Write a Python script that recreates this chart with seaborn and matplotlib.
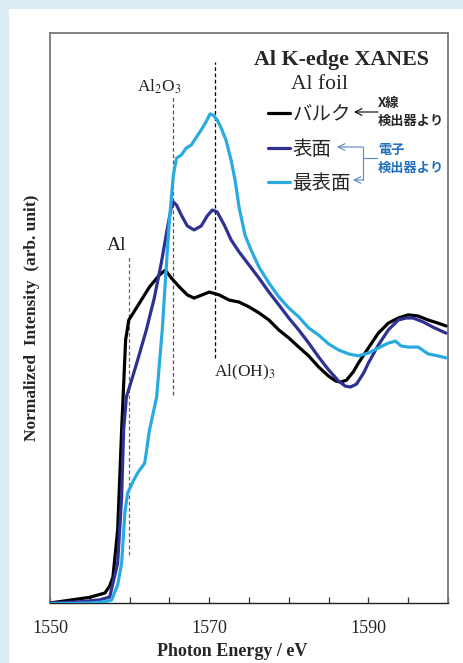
"""Al K-edge XANES de lamina de Al: bulk / superficie / superficie extrema."""
import matplotlib.pyplot as plt
import numpy as np
import pandas as pd
import seaborn as sns
from matplotlib.lines import Line2D
from matplotlib.patches import Rectangle
from matplotlib.ticker import FixedLocator, MultipleLocator

# --- datos (energia en eV, intensidad normalizada) ---
E_BULK = [1550.0, 1552.5, 1555.0, 1556.25, 1556.9, 1557.5, 1557.9, 1558.5,
          1559.0, 1559.5, 1559.9, 1561.25, 1562.5, 1563.75, 1564.5, 1565.25,
          1566.25, 1567.25, 1568.1, 1569.1, 1570.0, 1571.25, 1572.5, 1573.75,
          1575.0, 1576.25, 1577.5, 1578.75, 1580.0, 1581.25, 1582.5, 1583.75,
          1585.0, 1585.9, 1586.5, 1587.25, 1588.1, 1588.75, 1590.0, 1591.25,
          1592.5, 1593.75, 1595.0, 1596.25, 1597.5, 1598.75, 1599.75]
I_BULK = [0.00, 0.01, 0.02, 0.03, 0.035, 0.06, 0.09, 0.256,
          0.607, 0.923, 0.993, 1.053, 1.109, 1.151, 1.168, 1.14,
          1.109, 1.081, 1.07, 1.081, 1.091, 1.081, 1.063, 1.056,
          1.039, 1.018, 0.993, 0.958, 0.93, 0.898, 0.867, 0.828,
          0.796, 0.779, 0.775, 0.782, 0.811, 0.842, 0.895, 0.947,
          0.982, 1.0, 1.011, 1.007, 0.993, 0.982, 0.972]

E_SURF = [1550.0, 1553.75, 1556.25, 1557.5, 1558.5, 1559.0, 1559.25, 1559.6,
          1560.25, 1560.9, 1562.1, 1563.1, 1564.0, 1564.75, 1565.25, 1565.5,
          1565.9, 1566.5, 1567.25, 1568.1, 1569.0, 1569.75, 1570.4, 1571.0,
          1571.9, 1572.75, 1573.75, 1575.0, 1576.25, 1577.5, 1578.75, 1580.0,
          1581.25, 1582.5, 1583.75, 1585.0, 1586.25, 1587.1, 1587.75, 1588.5,
          1589.4, 1590.0, 1591.25, 1592.5, 1593.75, 1594.75, 1595.6, 1596.9,
          1598.1, 1599.75]
I_SURF = [0.0, 0.004, 0.011, 0.021, 0.14, 0.372, 0.607, 0.723,
          0.782, 0.842, 0.958, 1.07, 1.196, 1.316, 1.389, 1.407,
          1.396, 1.361, 1.323, 1.309, 1.323, 1.358, 1.379, 1.372,
          1.326, 1.274, 1.232, 1.186, 1.14, 1.091, 1.046, 1.0,
          0.958, 0.912, 0.863, 0.818, 0.779, 0.761, 0.758, 0.768,
          0.807, 0.842, 0.905, 0.958, 0.993, 1.0, 1.0, 0.986,
          0.968, 0.947]

E_TOP = [1550.0, 1555.0, 1556.9, 1557.75, 1558.5, 1559.0, 1559.4, 1559.75,
         1560.4, 1561.0, 1561.9, 1562.5, 1563.4, 1563.75, 1564.1, 1564.5,
         1565.0, 1565.5, 1565.9, 1566.5, 1567.1, 1567.75, 1568.4, 1569.0,
         1569.6, 1570.1, 1570.5, 1571.0, 1571.5, 1572.1, 1572.75, 1573.25,
         1573.75, 1574.5, 1575.25, 1576.25, 1577.5, 1578.75, 1580.0, 1581.25,
         1582.5, 1583.75, 1585.0, 1586.25, 1587.5, 1588.75, 1590.0, 1591.25,
         1592.5, 1593.4, 1594.1, 1595.0, 1596.25, 1597.5, 1598.75, 1599.75]
I_TOP = [-0.003, 0.0, 0.004, 0.011, 0.063, 0.14, 0.316, 0.386,
         0.425, 0.456, 0.491, 0.607, 0.723, 0.842, 0.958, 1.133,
         1.344, 1.502, 1.561, 1.572, 1.596, 1.607, 1.635, 1.66,
         1.688, 1.716, 1.712, 1.695, 1.667, 1.625, 1.554, 1.484,
         1.389, 1.291, 1.239, 1.179, 1.123, 1.074, 1.035, 1.004,
         0.965, 0.94, 0.909, 0.888, 0.874, 0.867, 0.877, 0.895,
         0.912, 0.919, 0.902, 0.898, 0.898, 0.874, 0.867, 0.86]

SERIES = ["バルク", "表面", "最表面"]
COLORES = {"バルク": "#000000", "表面": "#2e3192", "最表面": "#29abe2"}

# lineas de referencia (energia, y inferior, y superior, etiqueta)
REF_E = [1559.9, 1565.4, 1570.75]
REF_YMIN = [0.168, 0.730, 0.860]
REF_YMAX = [1.214, 1.782, 1.898]
REF_LABELS = ["Al", "Al$_2$O$_3$", "Al(OH)$_3$"]
REF_COLORS = ["#666666", "#555555", "#000000"]

W, H = 463, 663
SERIF = "Liberation Serif"
JP = ["Noto Sans CJK JP", "DejaVu Sans"]


def px(x, y):
    """Pixel de la imagen (origen arriba-izquierda) -> fraccion de figura."""
    return x / W, 1 - y / H


def main():
    sns.set_theme(style="white")
    plt.rcParams["font.family"] = [SERIF, "Noto Sans CJK JP"]
    plt.rcParams["mathtext.fontset"] = "stix"

    datos = pd.concat([
        pd.DataFrame({"E": E_BULK, "I": I_BULK, "serie": "バルク"}),
        pd.DataFrame({"E": E_SURF, "I": I_SURF, "serie": "表面"}),
        pd.DataFrame({"E": E_TOP, "I": I_TOP, "serie": "最表面"}),
    ], ignore_index=True)

    fig = plt.figure(figsize=(W / 100, H / 100), dpi=100)
    fig.patch.set_facecolor("#dbecf5")
    fig.patches.append(Rectangle(px(9, H), (W - 9) / W, (H - 9) / H,
                                 transform=fig.transFigure,
                                 facecolor="white", edgecolor="none",
                                 zorder=-10))
    ax = fig.add_axes([50 / W, 60 / H, 398 / W, 570 / H])
    ax.set_facecolor("white")

    # referencias punteadas
    for e, y0, y1, c in zip(REF_E, REF_YMIN, REF_YMAX, REF_COLORS):
        ax.vlines(e, y0, y1, colors=c, linestyles=(0, (3, 2)), lw=0.9,
                  zorder=1)
    ax.text(REF_E[0] - 1.5, REF_YMAX[0] + 0.04, REF_LABELS[0], ha="center",
            va="center", fontsize=14, family=SERIF, color="#222222")
    ax.text(REF_E[1] - 1.7, REF_YMAX[1] + 0.03, REF_LABELS[1],
            ha="center", va="center", fontsize=12.5, family=SERIF,
            color="#222222")
    ax.text(REF_E[2] - 0.15, REF_YMIN[2] - 0.05, REF_LABELS[2], ha="left",
            va="center", fontsize=12.5, family=SERIF, color="#222222")

    sns.lineplot(data=datos, x="E", y="I", hue="serie", hue_order=SERIES,
                 palette=COLORES, sort=False, estimator=None, lw=2.3,
                 legend=False, ax=ax, zorder=3)

    ax.set_xlim(1550, 1600)
    ax.set_ylim(0, 2.0)
    ax.xaxis.set_major_locator(FixedLocator([1550, 1570, 1590]))
    ax.xaxis.set_minor_locator(MultipleLocator(5))
    ax.tick_params(axis="x", which="both", direction="in", length=4,
                   width=0.9, color="#333333", pad=12, labelsize=13,
                   bottom=True)
    ax.set_yticks([])
    for sp in ax.spines.values():
        sp.set_visible(True)
        sp.set_color("#777777")
        sp.set_linewidth(1.3)
    ax.spines["bottom"].set_color("#222222")
    ax.spines["bottom"].set_linewidth(1.0)

    ax.set_xlabel("Photon Energy / eV", fontsize=13, fontweight="bold",
                  family=SERIF)
    ax.xaxis.set_label_coords(0.457, -0.07)
    ax.set_ylabel("Normalized  Intensity  (arb. unit)", fontsize=12.5,
                  fontweight="bold", family=SERIF)
    ax.yaxis.set_label_coords(-0.026, 0.5)

    # titulos
    ax.text(0.7325, 0.953, "Al K-edge XANES", transform=ax.transAxes,
            ha="center", va="center", fontsize=15.8, fontweight="bold",
            family=SERIF)
    ax.text(0.676, 0.909, "Al foil", transform=ax.transAxes, ha="center",
            va="center", fontsize=15.5, family=SERIF)

    # leyenda
    handles = [Line2D([], [], color=COLORES[s], lw=2.3) for s in SERIES]
    ax.legend(handles, SERIES, loc="upper left",
              bbox_to_anchor=((268 - 50) / 398, (603 - 104) / 570),
              frameon=False, handlelength=1.15, handletextpad=0.1,
              labelspacing=0.7, borderpad=0, borderaxespad=0,
              prop={"family": JP, "size": 14})

    # flechas y notas
    flecha = dict(arrowstyle="->", lw=0.8, color="black",
                  shrinkA=0, shrinkB=0, mutation_scale=12)
    ax.annotate("", xy=px(354, 112), xytext=px(378, 112),
                xycoords="figure fraction", arrowprops=flecha)
    fig.text(*px(378, 112), "X線\n検出器より", ha="left", va="center",
             fontsize=9.5, fontweight="bold", family=JP, linespacing=1.3)

    azul = "#5b86c4"
    flecha_azul = dict(flecha, color=azul)
    ax.annotate("", xy=px(337, 147), xytext=px(363, 147),
                xycoords="figure fraction", arrowprops=flecha_azul)
    ax.annotate("", xy=px(353, 180), xytext=px(363, 180),
                xycoords="figure fraction", arrowprops=flecha_azul)
    fig.add_artist(Line2D([px(363, 147)[0], px(363, 180)[0]],
                          [px(363, 147)[1], px(363, 180)[1]],
                          transform=fig.transFigure, color=azul, lw=0.8))
    fig.add_artist(Line2D([px(363, 158)[0], px(377, 158)[0]],
                          [px(363, 158)[1], px(377, 158)[1]],
                          transform=fig.transFigure, color=azul, lw=0.8))
    fig.text(*px(378, 159), "電子\n検出器より", ha="left", va="center",
             fontsize=9.5, fontweight="bold", family=JP, color="#1f6fbf",
             linespacing=1.3)

    fig.savefig("out.png", dpi=100, facecolor=fig.get_facecolor())
    plt.close(fig)


if __name__ == "__main__":
    main()
